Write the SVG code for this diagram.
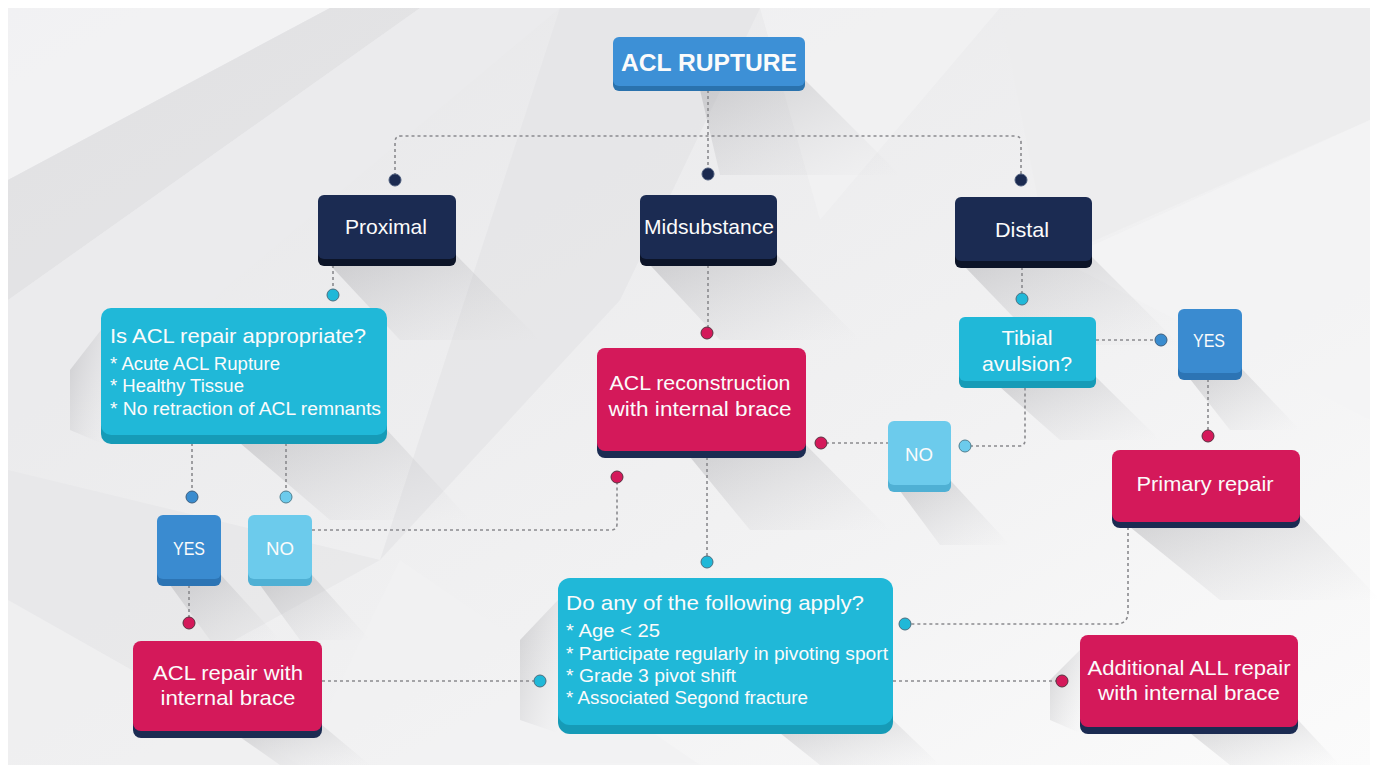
<svg xmlns="http://www.w3.org/2000/svg" width="1377" height="772" viewBox="0 0 1377 772">
<defs>
<linearGradient id="bg" x1="0" y1="0" x2="1" y2="1">
<stop offset="0" stop-color="#e6e6e8"/>
<stop offset="0.6" stop-color="#f1f1f2"/>
<stop offset="1" stop-color="#fbfbfb"/>
</linearGradient>
<linearGradient id="sh" x1="0" y1="0" x2="1" y2="1">
<stop offset="0" stop-color="#9a9a9e" stop-opacity="0.4"/>
<stop offset="1" stop-color="#c8c8cc" stop-opacity="0"/>
</linearGradient>
<style>
.ln{fill:none;stroke:#8a8a8e;stroke-width:1.6;stroke-dasharray:3 3}
.t{font-family:"Liberation Sans",Arial,sans-serif;fill:#fbfbfb}
.c{text-anchor:middle}
.dn{fill:#1b2a50;stroke:#4a5a7a;stroke-width:1}
.dc{fill:#20b8d8;stroke:#4a6f80;stroke-width:1}
.db{fill:#3a8ccf;stroke:#3c5f80;stroke-width:1}
.dl{fill:#6ccbec;stroke:#4f7f90;stroke-width:1}
.dr{fill:#d4195a;stroke:#5a3040;stroke-width:1}
</style>
</defs>
<rect width="1377" height="772" fill="#ffffff"/>
<rect x="8" y="8" width="1362" height="757" fill="url(#bg)"/>
<g id="facets" opacity="0.85">
<polygon points="8,8 330,8 8,180" fill="#f4f4f5"/>
<polygon points="8,180 330,8 420,8 8,300" fill="#e2e2e4"/>
<polygon points="8,300 420,8 560,8 8,470" fill="#ececee"/>
<polygon points="560,8 760,8 620,300 380,560" fill="#e6e6e8"/>
<polygon points="8,470 380,560 8,765" fill="#e8e8ea"/>
<polygon points="760,8 1000,8 820,220" fill="#f2f2f3"/>
<polygon points="1000,8 1370,8 1370,120 1050,260" fill="#ededee"/>
<polygon points="1370,120 1370,420 1060,260" fill="#f4f4f5"/>
<polygon points="8,600 300,765 8,765" fill="#f0f0f1"/>
<polygon points="400,560 700,765 300,765" fill="#f2f2f3"/>
</g>
<g id="shadows">
<polygon points="805,80 900,175 720,175 700,90" fill="url(#sh)"/>
<polygon points="456,255 540,340 400,340 330,265" fill="url(#sh)"/>
<polygon points="777,255 860,340 720,340 650,265" fill="url(#sh)"/>
<polygon points="1092,257 1180,345 1040,345 965,267" fill="url(#sh)"/>
<polygon points="387,430 470,520 330,520 240,443" fill="url(#sh)"/>
<polygon points="806,445 890,530 750,530 690,457" fill="url(#sh)"/>
<polygon points="1096,377 1160,440 1060,440 1000,387" fill="url(#sh)"/>
<polygon points="1242,369 1300,430 1230,430 1190,379" fill="url(#sh)"/>
<polygon points="1300,515 1380,600 1220,600 1130,527" fill="url(#sh)"/>
<polygon points="221,575 280,640 210,640 170,585" fill="url(#sh)"/>
<polygon points="312,575 370,640 300,640 260,585" fill="url(#sh)"/>
<polygon points="951,481 1010,545 940,545 900,491" fill="url(#sh)"/>
<polygon points="322,725 370,765 280,765 240,737" fill="url(#sh)"/>
<polygon points="893,720 940,765 820,765 780,733" fill="url(#sh)"/>
<polygon points="1298,720 1340,765 1230,765 1190,733" fill="url(#sh)"/>
<polygon points="558,600 520,640 520,720 558,733" fill="url(#sh)"/>
<polygon points="101,330 70,370 70,430 101,443" fill="url(#sh)"/>
<polygon points="1080,650 1050,680 1050,720 1080,733" fill="url(#sh)"/>
</g>
<g id="connectors">
<path class="ln" d="M708,90 V174"/>
<path class="ln" d="M395,176 V142 Q395,136 401,136 H1015 Q1021,136 1021,142 V176"/>
<path class="ln" d="M333,265 V290"/>
<path class="ln" d="M708,265 V328"/>
<path class="ln" d="M1022,267 V294"/>
<path class="ln" d="M192,443 V492"/>
<path class="ln" d="M286,443 V492"/>
<path class="ln" d="M189,585 V618"/>
<path class="ln" d="M312,530 H611 Q617,530 617,524 V482"/>
<path class="ln" d="M322,681 H535"/>
<path class="ln" d="M707,457 V557"/>
<path class="ln" d="M826,443 H888"/>
<path class="ln" d="M970,446 H1019 Q1025,446 1025,440 V387"/>
<path class="ln" d="M1096,340 H1156"/>
<path class="ln" d="M1208,379 V431"/>
<path class="ln" d="M1128,527 V612 Q1128,624 1116,624 H910"/>
<path class="ln" d="M893,681 H1057"/>
</g>
<g id="dots">
<circle class="dn" cx="395" cy="180" r="6"/>
<circle class="dn" cx="708" cy="174" r="6"/>
<circle class="dn" cx="1021" cy="180" r="6"/>
<circle class="dc" cx="333" cy="295" r="6"/>
<circle class="dr" cx="707" cy="333" r="6"/>
<circle class="dc" cx="1022" cy="299" r="6"/>
<circle class="db" cx="192" cy="497" r="6"/>
<circle class="dl" cx="286" cy="497" r="6"/>
<circle class="dr" cx="189" cy="623" r="6"/>
<circle class="dr" cx="617" cy="477" r="6"/>
<circle class="dc" cx="540" cy="681" r="6"/>
<circle class="dr" cx="821" cy="443" r="6"/>
<circle class="dl" cx="965" cy="446" r="6"/>
<circle class="db" cx="1161" cy="340" r="6"/>
<circle class="dr" cx="1208" cy="436" r="6"/>
<circle class="dc" cx="905" cy="624" r="6"/>
<circle class="dc" cx="707" cy="562" r="6"/>
<circle class="dr" cx="1062" cy="681" r="6"/>
</g>
<g id="n-rupture">
<rect x="613" y="40" width="192" height="51" rx="6" fill="#2a72ad"/>
<rect x="613" y="37" width="192" height="49" rx="6" fill="#3d90d6"/>
<text class="t c" x="709" y="71" font-size="24" font-weight="bold" textLength="176" lengthAdjust="spacingAndGlyphs">ACL RUPTURE</text>
</g>
<g id="n-proximal">
<rect x="318" y="198" width="138" height="68" rx="6" fill="#0c1428"/>
<rect x="318" y="195" width="138" height="64" rx="6" fill="#1b2b52"/>
<text class="t c" x="386" y="234" font-size="21" textLength="82" lengthAdjust="spacingAndGlyphs">Proximal</text>
</g>
<g id="n-midsubstance">
<rect x="640" y="198" width="137" height="68" rx="6" fill="#0c1428"/>
<rect x="640" y="195" width="137" height="64" rx="6" fill="#1b2b52"/>
<text class="t c" x="709" y="234" font-size="21" textLength="130" lengthAdjust="spacingAndGlyphs">Midsubstance</text>
</g>
<g id="n-distal">
<rect x="955" y="200" width="137" height="68" rx="6" fill="#0c1428"/>
<rect x="955" y="197" width="137" height="64" rx="6" fill="#1b2b52"/>
<text class="t c" x="1022" y="237" font-size="21" textLength="54" lengthAdjust="spacingAndGlyphs">Distal</text>
</g>
<g id="n-question1">
<rect x="101" y="312" width="286" height="132" rx="10" fill="#169bb7"/>
<rect x="101" y="308" width="286" height="127" rx="10" fill="#20b8d8"/>
<text class="t" x="110" y="343" font-size="21" textLength="256" lengthAdjust="spacingAndGlyphs">Is ACL repair appropriate?</text>
<text class="t" x="110" y="370" font-size="18" textLength="170" lengthAdjust="spacingAndGlyphs">* Acute ACL Rupture</text>
<text class="t" x="110" y="392" font-size="18" textLength="134" lengthAdjust="spacingAndGlyphs">* Healthy Tissue</text>
<text class="t" x="110" y="415" font-size="18" textLength="271" lengthAdjust="spacingAndGlyphs">* No retraction of ACL remnants</text>
</g>
<g id="n-yes1">
<rect x="157" y="518" width="64" height="68" rx="6" fill="#2c74b4"/>
<rect x="157" y="515" width="64" height="64" rx="6" fill="#3a8bd0"/>
<text class="t c" x="189" y="555" font-size="19" textLength="32" lengthAdjust="spacingAndGlyphs">YES</text>
</g>
<g id="n-no1">
<rect x="248" y="518" width="64" height="68" rx="6" fill="#4fb0d4"/>
<rect x="248" y="515" width="64" height="64" rx="6" fill="#6ccbec"/>
<text class="t c" x="280" y="555" font-size="19" textLength="28" lengthAdjust="spacingAndGlyphs">NO</text>
</g>
<g id="n-repair">
<rect x="133" y="644" width="189" height="94" rx="8" fill="#1b2b52"/>
<rect x="133" y="641" width="189" height="90" rx="8" fill="#d4195a"/>
<text class="t c" x="228" y="680" font-size="21" textLength="150" lengthAdjust="spacingAndGlyphs">ACL repair with</text>
<text class="t c" x="228" y="705" font-size="21" textLength="135" lengthAdjust="spacingAndGlyphs">internal brace</text>
</g>
<g id="n-reconstruction">
<rect x="597" y="351" width="209" height="107" rx="8" fill="#1b2b52"/>
<rect x="597" y="348" width="209" height="103" rx="8" fill="#d4195a"/>
<text class="t c" x="700" y="390" font-size="21" textLength="181" lengthAdjust="spacingAndGlyphs">ACL reconstruction</text>
<text class="t c" x="700" y="416" font-size="21" textLength="183" lengthAdjust="spacingAndGlyphs">with internal brace</text>
</g>
<g id="n-tibial">
<rect x="959" y="320" width="137" height="68" rx="6" fill="#169bb7"/>
<rect x="959" y="317" width="137" height="64" rx="6" fill="#20b8d8"/>
<text class="t c" x="1027" y="345" font-size="21" textLength="51" lengthAdjust="spacingAndGlyphs">Tibial</text>
<text class="t c" x="1027" y="371" font-size="21" textLength="90" lengthAdjust="spacingAndGlyphs">avulsion?</text>
</g>
<g id="n-yes2">
<rect x="1178" y="312" width="64" height="68" rx="6" fill="#2c74b4"/>
<rect x="1178" y="309" width="64" height="64" rx="6" fill="#3a8bd0"/>
<text class="t c" x="1209" y="347" font-size="19" textLength="32" lengthAdjust="spacingAndGlyphs">YES</text>
</g>
<g id="n-no2">
<rect x="888" y="424" width="63" height="68" rx="6" fill="#4fb0d4"/>
<rect x="888" y="421" width="63" height="64" rx="6" fill="#6ccbec"/>
<text class="t c" x="919" y="461" font-size="19" textLength="28" lengthAdjust="spacingAndGlyphs">NO</text>
</g>
<g id="n-primary">
<rect x="1112" y="453" width="188" height="75" rx="8" fill="#1b2b52"/>
<rect x="1112" y="450" width="188" height="72" rx="8" fill="#d4195a"/>
<text class="t c" x="1205" y="491" font-size="21" textLength="137" lengthAdjust="spacingAndGlyphs">Primary repair</text>
</g>
<g id="n-question2">
<rect x="558" y="582" width="335" height="152" rx="12" fill="#169bb7"/>
<rect x="558" y="578" width="335" height="147" rx="12" fill="#20b8d8"/>
<text class="t" x="566" y="610" font-size="21" textLength="298" lengthAdjust="spacingAndGlyphs">Do any of the following apply?</text>
<text class="t" x="566" y="637" font-size="18" textLength="94" lengthAdjust="spacingAndGlyphs">* Age &lt; 25</text>
<text class="t" x="566" y="660" font-size="18" textLength="322" lengthAdjust="spacingAndGlyphs">* Participate regularly in pivoting sport</text>
<text class="t" x="566" y="682" font-size="18" textLength="170" lengthAdjust="spacingAndGlyphs">* Grade 3 pivot shift</text>
<text class="t" x="566" y="704" font-size="18" textLength="242" lengthAdjust="spacingAndGlyphs">* Associated Segond fracture</text>
</g>
<g id="n-all">
<rect x="1080" y="638" width="218" height="96" rx="8" fill="#1b2b52"/>
<rect x="1080" y="635" width="218" height="92" rx="8" fill="#d4195a"/>
<text class="t c" x="1189" y="675" font-size="21" textLength="203" lengthAdjust="spacingAndGlyphs">Additional ALL repair</text>
<text class="t c" x="1189" y="700" font-size="21" textLength="182" lengthAdjust="spacingAndGlyphs">with internal brace</text>
</g>
</svg>
